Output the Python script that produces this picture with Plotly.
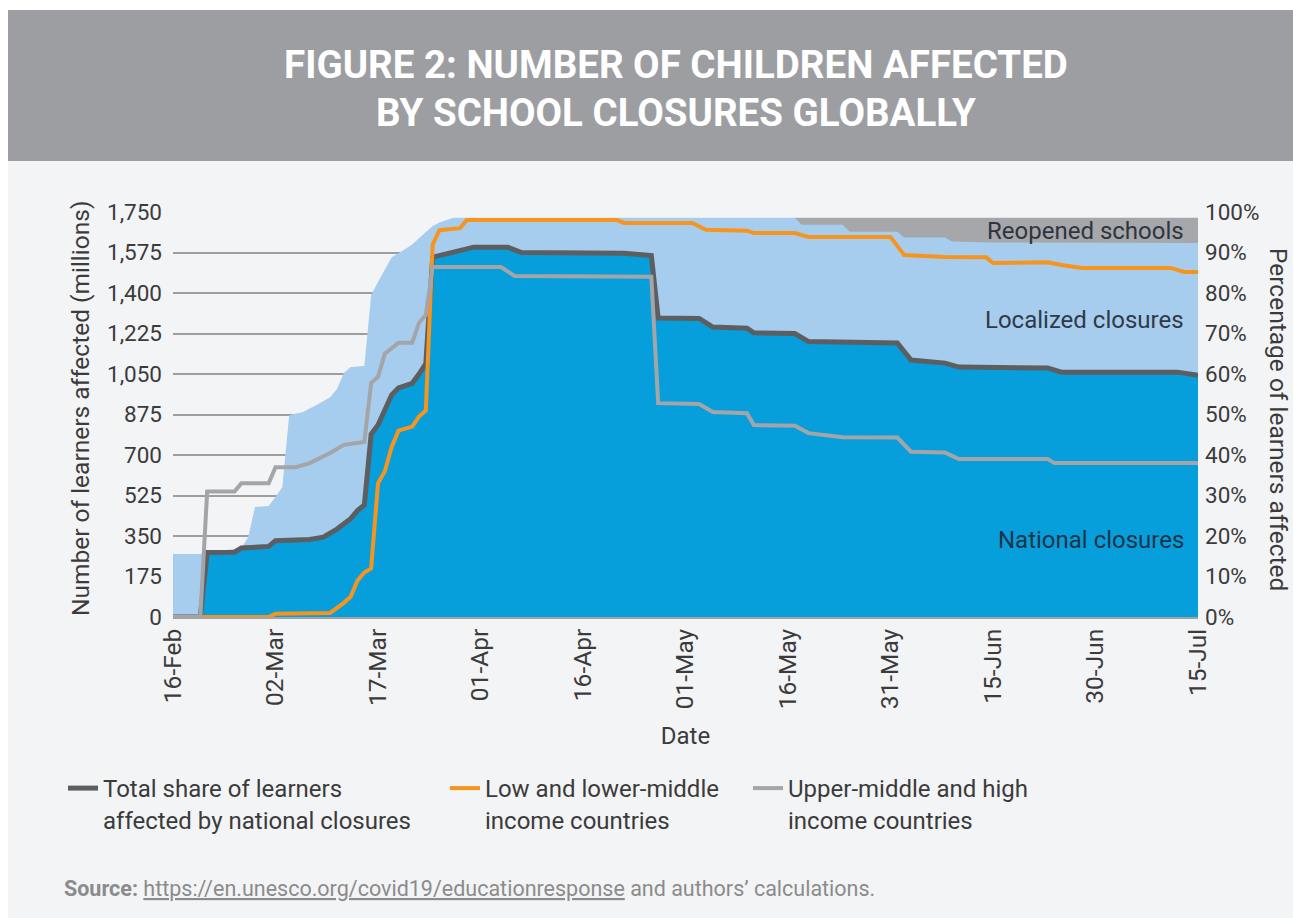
import plotly.graph_objects as go

# ---------------- data ----------------
# National closures (millions of learners) - also traced by the dark "total share" line
national_dates = ["2020-02-16", "2020-02-20", "2020-02-21", "2020-02-25", "2020-02-26", "2020-03-01",
                  "2020-03-02", "2020-03-07", "2020-03-09", "2020-03-11", "2020-03-13", "2020-03-14",
                  "2020-03-15", "2020-03-16", "2020-03-17", "2020-03-18", "2020-03-19", "2020-03-20",
                  "2020-03-22", "2020-03-23", "2020-03-24", "2020-03-25", "2020-03-28", "2020-03-31",
                  "2020-04-05", "2020-04-07", "2020-04-22", "2020-04-26", "2020-04-27", "2020-05-03",
                  "2020-05-05", "2020-05-10", "2020-05-11", "2020-05-17", "2020-05-19", "2020-06-01",
                  "2020-06-03", "2020-06-08", "2020-06-10", "2020-06-23", "2020-06-25", "2020-07-12",
                  "2020-07-15"]
national_m = [0, 0, 279, 280, 298, 305,
              330, 335, 345, 380, 425, 460,
              484, 790, 830, 900, 960, 990,
              1010, 1050, 1095, 1555, 1578, 1598,
              1598, 1575, 1572, 1562, 1292, 1290,
              1253, 1248, 1228, 1225, 1190, 1184,
              1110, 1097, 1080, 1076, 1058, 1058,
              1045]

# National + localized closures (millions)
closed_dates = ["2020-02-16", "2020-02-20", "2020-02-21", "2020-02-26", "2020-02-27", "2020-02-28",
                "2020-03-01", "2020-03-02", "2020-03-03", "2020-03-04", "2020-03-06", "2020-03-08",
                "2020-03-10", "2020-03-11", "2020-03-12", "2020-03-13", "2020-03-15", "2020-03-16",
                "2020-03-17", "2020-03-18", "2020-03-19", "2020-03-20", "2020-03-22", "2020-03-23",
                "2020-03-24", "2020-03-25", "2020-03-26", "2020-03-28", "2020-05-17", "2020-05-18",
                "2020-05-24", "2020-05-25", "2020-06-01", "2020-06-02", "2020-06-08", "2020-06-09",
                "2020-06-15", "2020-07-15"]
closed_m = [272, 272, 279, 298, 345, 475,
            480, 518, 562, 872, 886, 916,
            950, 985, 1054, 1080, 1085, 1391,
            1447, 1499, 1555, 1572, 1610, 1637,
            1663, 1690, 1705, 1725, 1725, 1695,
            1695, 1665, 1665, 1640, 1640, 1622,
            1618, 1616]

# Closed + reopened schools (millions)
reopened_dates = ["2020-05-17", "2020-07-15"]
enrolled_m = [1725, 1725]

# Low and lower-middle income countries (% of learners affected)
low_dates = ["2020-02-16", "2020-03-01", "2020-03-02", "2020-03-10", "2020-03-12", "2020-03-13",
             "2020-03-14", "2020-03-15", "2020-03-16", "2020-03-17", "2020-03-18", "2020-03-19",
             "2020-03-20", "2020-03-22", "2020-03-23", "2020-03-24", "2020-03-25", "2020-03-26",
             "2020-03-29", "2020-03-30", "2020-04-21", "2020-04-22", "2020-05-02", "2020-05-04",
             "2020-05-10", "2020-05-11", "2020-05-17", "2020-05-19", "2020-05-31", "2020-06-02",
             "2020-06-08", "2020-06-14", "2020-06-15", "2020-06-23", "2020-06-25", "2020-06-28",
             "2020-07-11", "2020-07-13", "2020-07-15"]
low_pct = [0, 0, 0.8, 1, 3.5, 5,
           9, 11, 12, 33, 36, 42,
           46, 47, 49.5, 51, 92, 95.5,
           96, 98, 98, 97.3, 97.3, 95.6,
           95.4, 94.8, 94.8, 93.8, 93.8, 89.4,
           88.9, 88.8, 87.4, 87.6, 86.9, 86.2,
           86.2, 85.2, 85.2]

# Upper-middle and high income countries (% of learners affected)
high_dates = ["2020-02-16", "2020-02-20", "2020-02-21", "2020-02-25", "2020-02-26", "2020-03-01",
              "2020-03-02", "2020-03-05", "2020-03-07", "2020-03-10", "2020-03-12", "2020-03-15",
              "2020-03-16", "2020-03-17", "2020-03-18", "2020-03-20", "2020-03-22", "2020-03-23",
              "2020-03-24", "2020-03-25", "2020-04-04", "2020-04-06", "2020-04-26", "2020-04-27",
              "2020-05-03", "2020-05-05", "2020-05-10", "2020-05-11", "2020-05-17", "2020-05-19",
              "2020-05-24", "2020-06-01", "2020-06-03", "2020-06-08", "2020-06-10", "2020-06-23",
              "2020-06-24", "2020-07-15"]
high_pct = [0, 0, 31, 31, 33, 33,
            37, 37, 38, 40.5, 42.5, 43.2,
            57.8, 59.3, 65, 67.7, 67.7, 72.6,
            74.6, 86.4, 86.4, 84.2, 84, 52.8,
            52.6, 50.6, 50.3, 47.4, 47.2, 45.4,
            44.4, 44.3, 40.8, 40.6, 39, 39,
            38, 38]

x_tick_dates = ["2020-02-16", "2020-03-02", "2020-03-17", "2020-04-01", "2020-04-16", "2020-05-01",
                "2020-05-16", "2020-05-31", "2020-06-15", "2020-06-30", "2020-07-15"]
x_tick_text = ["16-Feb", "02-Mar", "17-Mar", "01-Apr", "16-Apr", "01-May",
               "16-May", "31-May", "15-Jun", "30-Jun", "15-Jul"]
y_ticks = [0, 175, 350, 525, 700, 875, 1050, 1225, 1400, 1575, 1750]
pct_ticks = [0, 10, 20, 30, 40, 50, 60, 70, 80, 90, 100]
pct_tick_text = ["0%", "10%", "20%", "30%", "40%", "50%", "60%", "70%", "80%", "90%", "100%"]

series_names = ["Total share of learners<br>affected by national closures",
                "Low and lower-middle<br>income countries",
                "Upper-middle and high<br>income countries"]
area_labels = ["Reopened schools", "Localized closures", "National closures"]

# ---------------- layout geometry (pixels) ----------------
W, H = 1293, 918
L, R, T, B = 173, 1198, 212, 617
PW, PH = R - L, B - T


def fx(px):
    return (px - L) / PW


def fy(py):
    return (B - py) / PH


FONT = "Roboto"
TXT = "#3b3b3b"

C_NAT = "#069fdb"
C_LOC = "#a7cdee"
C_REO = "#a6a7aa"
C_DARK = "#5d5e61"
C_ORANGE = "#f7941d"
C_LIGHT = "#a4a5a8"

fig = go.Figure()

# areas (overlapping fills, opaque)
fig.add_trace(go.Scatter(x=reopened_dates, y=enrolled_m, mode="lines", line=dict(width=0),
                         fill="tozeroy", fillcolor=C_REO, showlegend=False, hoverinfo="skip"))
fig.add_trace(go.Scatter(x=closed_dates, y=closed_m, mode="lines", line=dict(width=0),
                         fill="tozeroy", fillcolor=C_LOC, showlegend=False, hoverinfo="skip"))
fig.add_trace(go.Scatter(x=national_dates, y=national_m, mode="lines", line=dict(width=0),
                         fill="tozeroy", fillcolor=C_NAT, showlegend=False, hoverinfo="skip"))

# lines
fig.add_trace(go.Scatter(x=national_dates, y=national_m, mode="lines", name=series_names[0],
                         line=dict(color=C_DARK, width=5), legendwidth=337, legendrank=1))
fig.add_trace(go.Scatter(x=low_dates, y=low_pct, mode="lines", name=series_names[1], yaxis="y2",
                         line=dict(color=C_ORANGE, width=4), legendwidth=258, legendrank=2))
fig.add_trace(go.Scatter(x=high_dates, y=high_pct, mode="lines", name=series_names[2], yaxis="y2",
                         line=dict(color=C_LIGHT, width=4), legendrank=3))

shapes = [
    dict(type="rect", xref="paper", yref="paper", x0=fx(8), x1=fx(W + 5), y0=fy(H + 5), y1=fy(10),
         fillcolor="#f3f4f6", line=dict(width=0), layer="below"),
    dict(type="rect", xref="paper", yref="paper", x0=fx(8), x1=fx(W + 5), y0=fy(161), y1=fy(10),
         fillcolor="#9d9ea2", line=dict(width=0), layer="below"),
]

annotations = [
    dict(text="<b>FIGURE 2: NUMBER OF CHILDREN AFFECTED</b>", x=fx(676), y=fy(64), xref="paper",
         yref="paper", showarrow=False, xanchor="center", yanchor="middle",
         font=dict(family=FONT, size=38.5, color="white")),
    dict(text="<b>BY SCHOOL CLOSURES GLOBALLY</b>", x=fx(676), y=fy(112), xref="paper",
         yref="paper", showarrow=False, xanchor="center", yanchor="middle",
         font=dict(family=FONT, size=38.5, color="white")),
    dict(text="Number of learners affected (millions)", x=fx(80), y=fy(409), xref="paper",
         yref="paper", showarrow=False, textangle=-90, xanchor="center", yanchor="middle",
         font=dict(family=FONT, size=24.5, color=TXT)),
    dict(text="Percentage of learners affected", x=fx(1279), y=fy(419), xref="paper",
         yref="paper", showarrow=False, textangle=90, xanchor="center", yanchor="middle",
         font=dict(family=FONT, size=24.5, color=TXT)),
    dict(text=area_labels[0], x=fx(1186), y=fy(231), xref="paper", yref="paper", showarrow=False,
         xanchor="right", yanchor="middle", font=dict(family=FONT, size=24, color="#2f3540")),
    dict(text=area_labels[1], x=fx(1186), y=fy(320), xref="paper", yref="paper", showarrow=False,
         xanchor="right", yanchor="middle", font=dict(family=FONT, size=24, color="#2f3a48")),
    dict(text=area_labels[2], x=fx(1186), y=fy(540), xref="paper", yref="paper", showarrow=False,
         xanchor="right", yanchor="middle", font=dict(family=FONT, size=24, color="#1f3448")),
    dict(text="<b>Source:</b> <u>https://en.unesco.org/covid19/educationresponse</u> and authors\u2019 calculations.",
         x=fx(62), y=fy(888), xref="paper", yref="paper", showarrow=False, xanchor="left",
         yanchor="middle", font=dict(family=FONT, size=21.5, color="#8b8b8b")),
]

fig.update_layout(
    width=W, height=H,
    margin=dict(l=L, r=W - R, t=T, b=H - B, pad=0),
    paper_bgcolor="white",
    plot_bgcolor="rgba(0,0,0,0)",
    font=dict(family=FONT, size=22, color=TXT),
    shapes=shapes,
    annotations=annotations,
    showlegend=True,
    legend=dict(orientation="h", xref="container", yref="container", x=63 / W, y=1 - 766 / H,
                xanchor="left", yanchor="top", valign="top", itemwidth=30,
                font=dict(family=FONT, size=24, color=TXT), bgcolor="rgba(0,0,0,0)",
                traceorder="normal", itemclick=False),
    xaxis=dict(type="date", range=["2020-02-16", "2020-07-15"], tickmode="array",
               tickvals=x_tick_dates, ticktext=x_tick_text, tickangle=-90, showgrid=False,
               showline=True, linecolor="#a3a3a3", linewidth=2, ticks="", zeroline=False,
               tickfont=dict(family=FONT, size=24.5, color=TXT),
               title=dict(text="Date", font=dict(family=FONT, size=24, color=TXT), standoff=19)),
    yaxis=dict(range=[0, 1750], tickmode="array", tickvals=y_ticks, tickformat=",",
               showgrid=True, gridcolor="#9e9e9e", gridwidth=2, zeroline=False, ticks="",
               showline=False, tickfont=dict(family=FONT, size=22.5, color=TXT), ticklabelstandoff=10),
    yaxis2=dict(range=[0, 100], overlaying="y", side="right", tickmode="array",
                tickvals=pct_ticks, ticktext=pct_tick_text, showgrid=False, zeroline=False, ticks="",
                tickfont=dict(family=FONT, size=22.5, color=TXT), ticklabelstandoff=6),
    hovermode=False,
)

fig.write_html("out.html", config={"displayModeBar": False},
               post_script="document.body.style.margin='0';document.body.style.overflow='hidden';")
